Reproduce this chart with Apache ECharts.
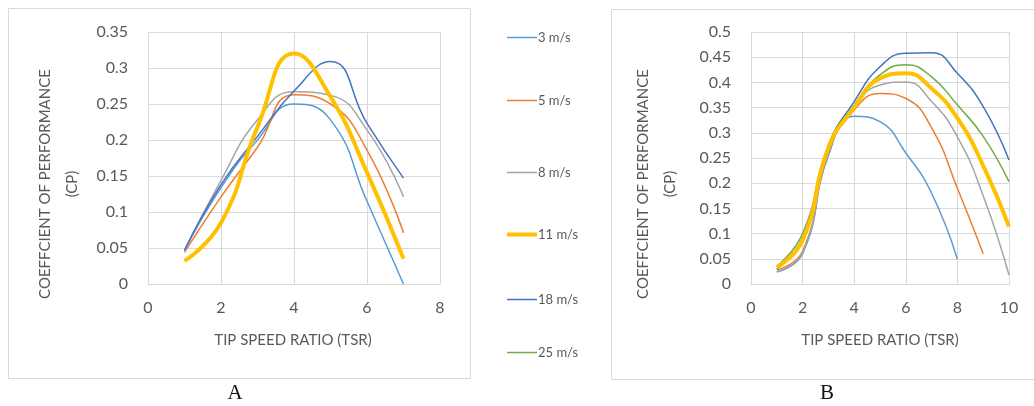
<!DOCTYPE html>
<html>
<head>
<meta charset="utf-8">
<script src="https://cdn.jsdelivr.net/npm/echarts@6/dist/echarts.min.js"></script>
<style>
  html, body { margin: 0; padding: 0; background: #fff; }
  #main { width: 1034px; height: 406px; }
</style>
</head>
<body>
<div id="main"></div>
<script>
// tip speed ratio values
var tsrA = [1, 2, 3, 4, 5, 6, 7];
var tsrB = [1, 2, 3, 4, 5, 6, 7, 8, 9, 10];

// chart A (Cp)
var a3  = [0.046, 0.134, 0.2, 0.25, 0.228, 0.115, 0.0];
var a5  = [0.044, 0.121, 0.19, 0.263, 0.25, 0.186, 0.071];
var a8  = [0.046, 0.144, 0.228, 0.267, 0.262, 0.214, 0.121];
var a11 = [0.032, 0.085, 0.218, 0.32, 0.26, 0.155, 0.035];
var a18 = [0.047, 0.138, 0.205, 0.268, 0.309, 0.223, 0.147];

// chart B (Cp)
var b3  = [0.024, 0.06, 0.255, 0.333, 0.322, 0.26, 0.18, 0.049];
var b5  = [0.028, 0.065, 0.262, 0.345, 0.378, 0.368, 0.31, 0.19, 0.06];
var b8  = [0.025, 0.062, 0.265, 0.35, 0.395, 0.401, 0.362, 0.292, 0.175, 0.018];
var b11 = [0.033, 0.087, 0.27, 0.35, 0.408, 0.418, 0.388, 0.329, 0.235, 0.114];
var b18 = [0.03, 0.09, 0.275, 0.362, 0.431, 0.458, 0.459, 0.418, 0.352, 0.246];
var b25 = [0.035, 0.1, 0.275, 0.355, 0.415, 0.435, 0.411, 0.355, 0.293, 0.203];

var names = ['3 m/s', '5 m/s', '8 m/s', '11 m/s', '18 m/s', '25 m/s'];
var colors = ['#5B9BD5', '#ED7D31', '#A5A5A5', '#FFC000', '#4472C4', '#70AD47'];
var legendTops = [26, 89, 161, 223, 288, 341];

function pairs(xs, ys) {
  return ys.map(function (v, i) { return [xs[i], v]; });
}

function line(idx, grid, xs, ys) {
  var thick = names[idx] === '11 m/s';
  return {
    name: names[idx],
    type: 'line',
    xAxisIndex: grid,
    yAxisIndex: grid,
    smooth: 0.5,
    showSymbol: false,
    z: thick ? 3 : 2,
    lineStyle: { color: colors[idx], width: thick ? 4 : 1.5 },
    itemStyle: { color: colors[idx] },
    data: pairs(xs, ys)
  };
}

var font = 'Lato, "Noto Sans", sans-serif';
var grey = '#595959';
var gridLine = { show: true, lineStyle: { color: '#d9d9d9', width: 1 } };

function xAx(grid, max) {
  return {
    type: 'value', gridIndex: grid, min: 0, max: max, interval: 2,
    axisLine: { show: true, lineStyle: { color: '#d9d9d9' } },
    axisTick: { show: false },
    splitLine: gridLine,
    axisLabel: { color: grey, fontSize: 16, fontFamily: font, margin: 16 }
  };
}
function yAx(grid, max, step) {
  return {
    type: 'value', gridIndex: grid, min: 0, max: max, interval: step,
    axisLine: { show: false },
    axisTick: { show: false },
    splitLine: gridLine,
    axisLabel: { color: grey, fontSize: 16, fontFamily: font, margin: 20 }
  };
}

var legends = names.map(function (n, i) {
  return {
    data: [n],
    left: 502,
    top: legendTops[i],
    orient: 'vertical',
    icon: 'rect',
    itemWidth: 30,
    itemHeight: n === '11 m/s' ? 4 : 1.5,
    itemGap: 4,
    textStyle: { color: grey, fontSize: 13, fontFamily: font, padding: [0, 0, 0, -4] }
  };
});

function yTitle(x, y) {
  return {
    type: 'text', x: x, y: y, rotation: Math.PI / 2,
    style: {
      text: 'COEFFCIENT OF PERFORMANCE\n(CP)',
      fill: grey, font: '15px ' + font,
      align: 'center', verticalAlign: 'middle', lineHeight: 27
    }
  };
}
function xTitle(x, y) {
  return {
    type: 'text', x: x, y: y,
    style: { text: 'TIP SPEED RATIO (TSR)', fill: grey, font: '15px ' + font, align: 'center', verticalAlign: 'middle' }
  };
}
function letter(t, x) {
  return {
    type: 'text', x: x, y: 393,
    style: { text: t, fill: '#111', font: '21px "Liberation Serif", "DejaVu Serif", serif', align: 'center', verticalAlign: 'middle' }
  };
}

var dom = document.getElementById('main');
var myChart = echarts.init(dom);

var option = {
  animation: false,
  backgroundColor: '#fff',
  color: colors,
  legend: legends,
  grid: [
    { left: 148, right: 594, top: 32, bottom: 122 },
    { left: 751, right: 25, top: 32, bottom: 122 }
  ],
  xAxis: [xAx(0, 8), xAx(1, 10)],
  yAxis: [yAx(0, 0.35, 0.05), yAx(1, 0.5, 0.05)],
  graphic: [
    { type: 'rect', shape: { x: 8.5, y: 8.5, width: 462, height: 370 }, style: { fill: null, stroke: '#d9d9d9', lineWidth: 1 } },
    { type: 'rect', shape: { x: 611.5, y: 9.5, width: 440, height: 370 }, style: { fill: null, stroke: '#d9d9d9', lineWidth: 1 } },
    yTitle(59, 184),
    yTitle(657, 184),
    xTitle(293, 340),
    xTitle(880, 340),
    letter('A', 235),
    letter('B', 827)
  ],
  series: [
    line(0, 0, tsrA, a3),
    line(1, 0, tsrA, a5),
    line(2, 0, tsrA, a8),
    line(3, 0, tsrA, a11),
    line(4, 0, tsrA, a18),
    line(0, 1, tsrB, b3),
    line(1, 1, tsrB, b5),
    line(2, 1, tsrB, b8),
    line(3, 1, tsrB, b11),
    line(4, 1, tsrB, b18),
    line(5, 1, tsrB, b25)
  ]
};

myChart.setOption(option);
</script>
</body>
</html>
